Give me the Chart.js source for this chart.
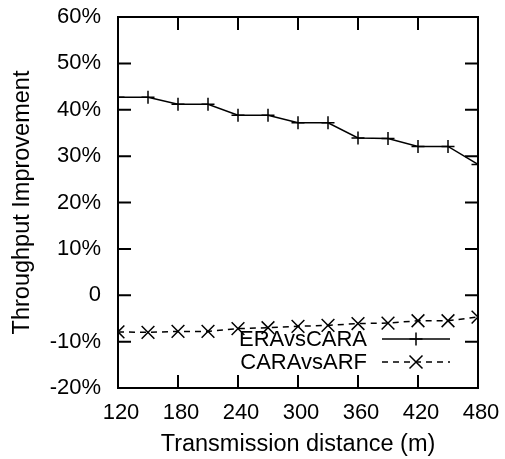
<!DOCTYPE html>
<html>
<head>
<meta charset="utf-8">
<script src="https://cdn.jsdelivr.net/npm/chart.js@4/dist/chart.umd.min.js"></script>
<style>
html,body{margin:0;padding:0;background:#fff;}
#wrap{width:505px;height:459px;position:relative;}
</style>
</head>
<body>
<div id="wrap"><canvas id="c" width="505" height="459"></canvas></div>
<script>
const distances = [120,150,180,210,240,270,300,330,360,390,420,450,480];
const eraVsCara = [42.7,42.7,41.2,41.2,38.8,38.8,37.2,37.2,33.9,33.8,32.1,32.1,28.2];
const caraVsArf = [-7.9,-8.0,-7.8,-7.8,-7.2,-7.0,-6.7,-6.5,-6.1,-6.0,-5.5,-5.5,-4.7];
const seriesNames = ['ERAvsCARA','CARAvsARF'];
const xTitle = 'Transmission distance (m)';
const yTitle = 'Throughput Improvement';

const FONT = 'Liberation Sans, Arial, sans-serif';
const FS = 22;
const TFS = 23.5;

const framePlugin = {
  id: 'frame',
  afterDatasetsDraw(chart) {
    const {ctx, chartArea: a, scales} = chart;
    ctx.save();
    ctx.strokeStyle = '#000';
    ctx.lineWidth = 2;
    ctx.strokeRect(a.left, a.top, a.right - a.left, a.bottom - a.top);
    const tl = 13;
    ctx.beginPath();
    scales.y.ticks.forEach(t => {
      const y = scales.y.getPixelForValue(t.value);
      ctx.moveTo(a.left, y); ctx.lineTo(a.left + tl, y);
      ctx.moveTo(a.right, y); ctx.lineTo(a.right - tl, y);
    });
    scales.x.ticks.forEach(t => {
      const x = scales.x.getPixelForValue(t.value);
      ctx.moveTo(x, a.bottom); ctx.lineTo(x, a.bottom - tl);
      ctx.moveTo(x, a.top); ctx.lineTo(x, a.top + tl);
    });
    ctx.stroke();
    // legend inside plot
    const rows = [339, 362];
    ctx.font = FS + 'px ' + FONT;
    ctx.textAlign = 'right';
    ctx.textBaseline = 'middle';
    ctx.fillStyle = '#000';
    chart.data.datasets.forEach((ds, i) => {
      const y = rows[i];
      ctx.fillText(ds.label, 367, y + 1);
      ctx.save();
      ctx.lineWidth = 1.5;
      ctx.setLineDash(ds.borderDash || []);
      ctx.beginPath();
      ctx.moveTo(382, y); ctx.lineTo(450, y);
      ctx.stroke();
      ctx.restore();
      const mx = 416, r = 6.5;
      ctx.lineWidth = 1.5;
      ctx.beginPath();
      if (ds.pointStyle === 'cross') {
        ctx.moveTo(mx - r, y); ctx.lineTo(mx + r, y);
        ctx.moveTo(mx, y - r); ctx.lineTo(mx, y + r);
      } else {
        ctx.moveTo(mx - r, y - r); ctx.lineTo(mx + r, y + r);
        ctx.moveTo(mx - r, y + r); ctx.lineTo(mx + r, y - r);
      }
      ctx.stroke();
    });
    ctx.restore();
  }
};

function noPad(s) { s.paddingLeft = 0; s.paddingRight = 0; s.paddingTop = 0; s.paddingBottom = 0; }

new Chart(document.getElementById('c'), {
  type: 'line',
  data: {
    labels: distances,
    datasets: [
      {
        label: seriesNames[0],
        data: distances.map((d, i) => ({x: d, y: eraVsCara[i]})),
        borderColor: '#000', backgroundColor: '#000',
        borderWidth: 1.5, pointStyle: 'cross', pointRadius: 6.5,
        pointBorderWidth: 1.5, pointBorderColor: '#000', tension: 0
      },
      {
        label: seriesNames[1],
        data: distances.map((d, i) => ({x: d, y: caraVsArf[i]})),
        borderColor: '#000', backgroundColor: '#000',
        borderWidth: 1.5, borderDash: [6, 5], pointStyle: 'crossRot', pointRadius: 9,
        pointBorderWidth: 1.5, pointBorderColor: '#000', tension: 0
      }
    ]
  },
  options: {
    responsive: false,
    animation: false,
    layout: {padding: {top: 17, right: 27, left: 0, bottom: 0}},
    plugins: {legend: {display: false}, tooltip: {enabled: false}},
    scales: {
      x: {
        type: 'linear', min: 120, max: 480,
        ticks: {stepSize: 60, color: '#000', font: {family: FONT, size: FS}, padding: 12, labelOffset: 3},
        grid: {display: false, drawTicks: false},
        border: {display: false},
        title: {display: true, text: xTitle, color: '#000', font: {family: FONT, size: TFS}, padding: {top: 0, bottom: 0}},
        afterFit(s) { s.height = 71; noPad(s); }
      },
      y: {
        type: 'linear', min: -20, max: 60,
        ticks: {stepSize: 10, color: '#000', font: {family: FONT, size: FS}, padding: 17,
          callback: v => v === 0 ? '0' : v + '%'},
        grid: {display: false, drawTicks: false},
        border: {display: false},
        title: {display: true, text: yTitle, color: '#000', font: {family: FONT, size: TFS}, padding: {top: 8, bottom: 0}},
        afterFit(s) { s.width = 118; noPad(s); }
      }
    }
  },
  plugins: [framePlugin]
});
</script>
</body>
</html>
